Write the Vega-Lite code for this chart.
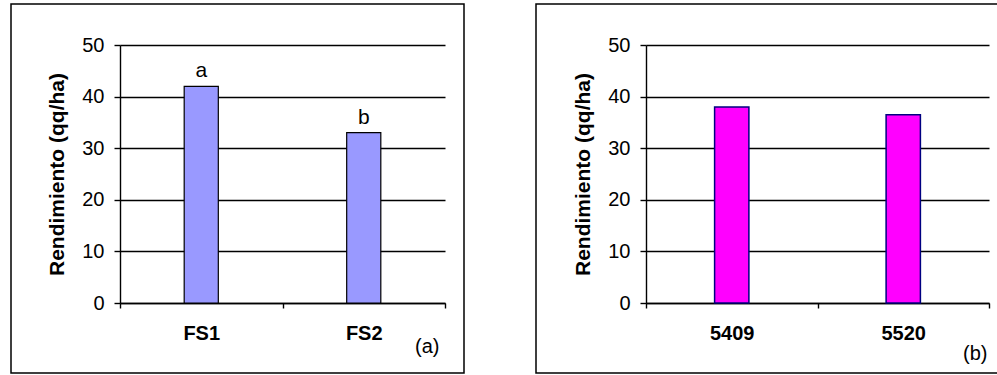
{
  "$schema": "https://vega.github.io/schema/vega-lite/v6.json",
  "padding": {"left": 10, "top": 3, "right": 0, "bottom": 0},
  "spacing": 70,
  "config": {
    "view": {"stroke": "black", "strokeWidth": 1.5},
    "axis": {
      "labelFont": "Liberation Sans", "titleFont": "Liberation Sans",
      "labelColor": "black", "titleColor": "black",
      "domainColor": "black", "tickColor": "black", "gridColor": "black",
      "gridOpacity": 1, "domainWidth": 1.4, "tickWidth": 1.4, "gridWidth": 1.4
    },
    "text": {"font": "Liberation Sans"}
  },
  "hconcat": [
    {
      "width": 453, "height": 369,
      "data": {"values": [
        {"trat": "FS1", "rend": 42, "letra": "a"},
        {"trat": "FS2", "rend": 33, "letra": "b"}
      ]},
      "encoding": {
        "x": {"field": "trat", "type": "nominal", "sort": null,
          "scale": {"range": [109, 434], "paddingInner": 0, "paddingOuter": 0},
          "axis": {"orient": "bottom", "offset": -70, "labelAngle": 0, "labelFontSize": 20, "labelFontWeight": "bold",
            "labelPadding": 15, "tickSize": 5, "tickBand": "extent", "grid": false,
            "title": "(a)", "titleFontSize": 20, "titleFontWeight": "normal", "titleX": 428, "titleY": 49,
            "titleAlign": "right", "titleBaseline": "alphabetic", "titleAnchor": null}},
        "y": {"field": "rend", "type": "quantitative",
          "scale": {"domain": [0, 50], "nice": false, "range": [299, 41]},
          "axis": {"orient": "left", "offset": -109, "values": [0, 10, 20, 30, 40, 50], "labelFontSize": 20,
            "tickSize": 6, "labelPadding": 10, "title": "Rendimiento (qq/ha)", "titleFontSize": 21,
            "titleFontWeight": "bold", "titlePadding": 14, "grid": true}}
      },
      "layer": [
        {"mark": {"type": "bar", "width": {"band": 0.21}, "fill": "#9999FF", "stroke": "black", "strokeWidth": 1.2}},
        {"mark": {"type": "text", "baseline": "alphabetic", "dy": -9, "fontSize": 21},
          "encoding": {"text": {"field": "letra"}}}
      ]
    },
    {
      "width": 464, "height": 369,
      "data": {"values": [
        {"var": "5409", "rend": 38},
        {"var": "5520", "rend": 36.5}
      ]},
      "encoding": {
        "x": {"field": "var", "type": "nominal", "sort": null,
          "scale": {"range": [110, 453], "paddingInner": 0, "paddingOuter": 0},
          "axis": {"orient": "bottom", "offset": -70, "labelAngle": 0, "labelFontSize": 20, "labelFontWeight": "bold",
            "labelPadding": 15, "tickSize": 5, "tickBand": "extent", "grid": false,
            "title": "(b)", "titleFontSize": 20, "titleFontWeight": "normal", "titleX": 451, "titleY": 56,
            "titleAlign": "right", "titleBaseline": "alphabetic", "titleAnchor": null}},
        "y": {"field": "rend", "type": "quantitative",
          "scale": {"domain": [0, 50], "nice": false, "range": [299, 41]},
          "axis": {"orient": "left", "offset": -110, "values": [0, 10, 20, 30, 40, 50], "labelFontSize": 20,
            "tickSize": 6, "labelPadding": 10, "title": "Rendimiento (qq/ha)", "titleFontSize": 21,
            "titleFontWeight": "bold", "titlePadding": 14, "grid": true}}
      },
      "layer": [
        {"mark": {"type": "bar", "width": {"band": 0.2}, "fill": "#FF00FF", "stroke": "#000080", "strokeWidth": 1.5}}
      ]
    }
  ]
}
